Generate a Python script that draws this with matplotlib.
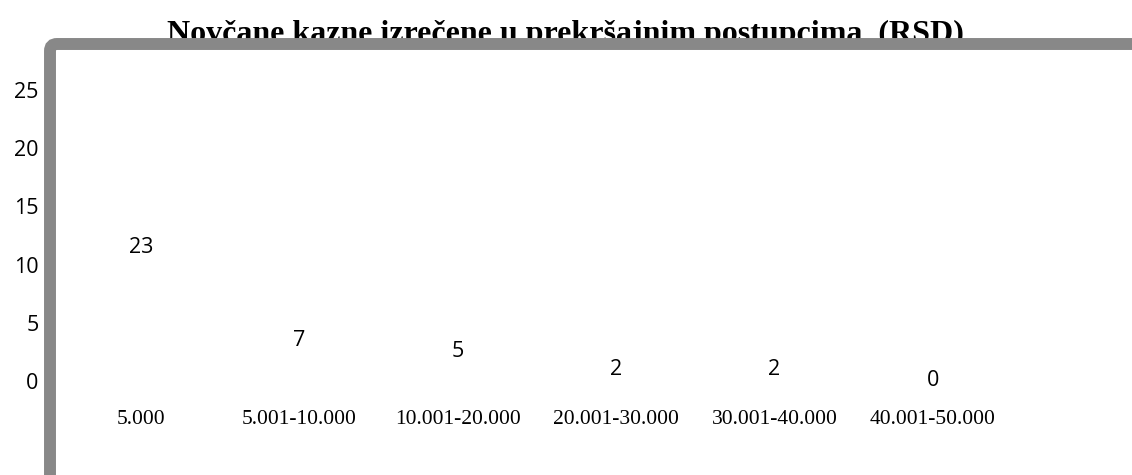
import matplotlib
matplotlib.use("Agg")
import matplotlib.pyplot as plt
from matplotlib.patches import FancyBboxPatch
from matplotlib.transforms import IdentityTransform

title = "Novčane kazne izrečene u prekršajnim postupcima  (RSD)"
categories = ["5.000", "5.001-10.000", "10.001-20.000", "20.001-30.000",
              "30.001-40.000", "40.001-50.000"]
values = [23, 7, 5, 2, 2, 0]
yticks = [0, 5, 10, 15, 20, 25]

W, H = 1132, 475
fig = plt.figure(figsize=(W / 100, H / 100), dpi=100)
fig.patch.set_facecolor("white")

ax = fig.add_axes([62 / W, 94 / H, (1012 - 62) / W, (385 - 94) / H])
x = list(range(len(categories)))
bars = ax.bar(x, values, width=0.6, color="none", edgecolor="none")
ax.bar_label(bars, labels=[str(v) for v in values], label_type="center",
             fontsize=15.5, family="Open Sans", color="black")
ax.set_xlim(-0.5, len(categories) - 0.5)
ax.set_ylim(0, 25)
ax.set_yticks(yticks)
ax.set_yticklabels([str(t) for t in yticks], fontsize=15.5, family="Open Sans")
ax.set_xticks(x)
ax.set_xticklabels(categories, fontsize=15.5, family="Liberation Serif")
ax.tick_params(axis="y", length=0, pad=17)
ax.tick_params(axis="x", length=0, pad=21)
for s in ax.spines.values():
    s.set_visible(False)
ax.set_facecolor("none")

fig.text(565 / W, 1 - 42 / H, title, ha="center", va="baseline",
         fontsize=23, fontweight="bold", family="Liberation Serif", zorder=1)

frame = FancyBboxPatch((50, -60), 1300, (H - 44) + 60,
                       boxstyle="round,pad=0,rounding_size=7",
                       transform=IdentityTransform(), facecolor="none",
                       edgecolor="#888888", linewidth=8.6, zorder=5)
fig.patches.append(frame)

fig.savefig("out.png", dpi=100)
